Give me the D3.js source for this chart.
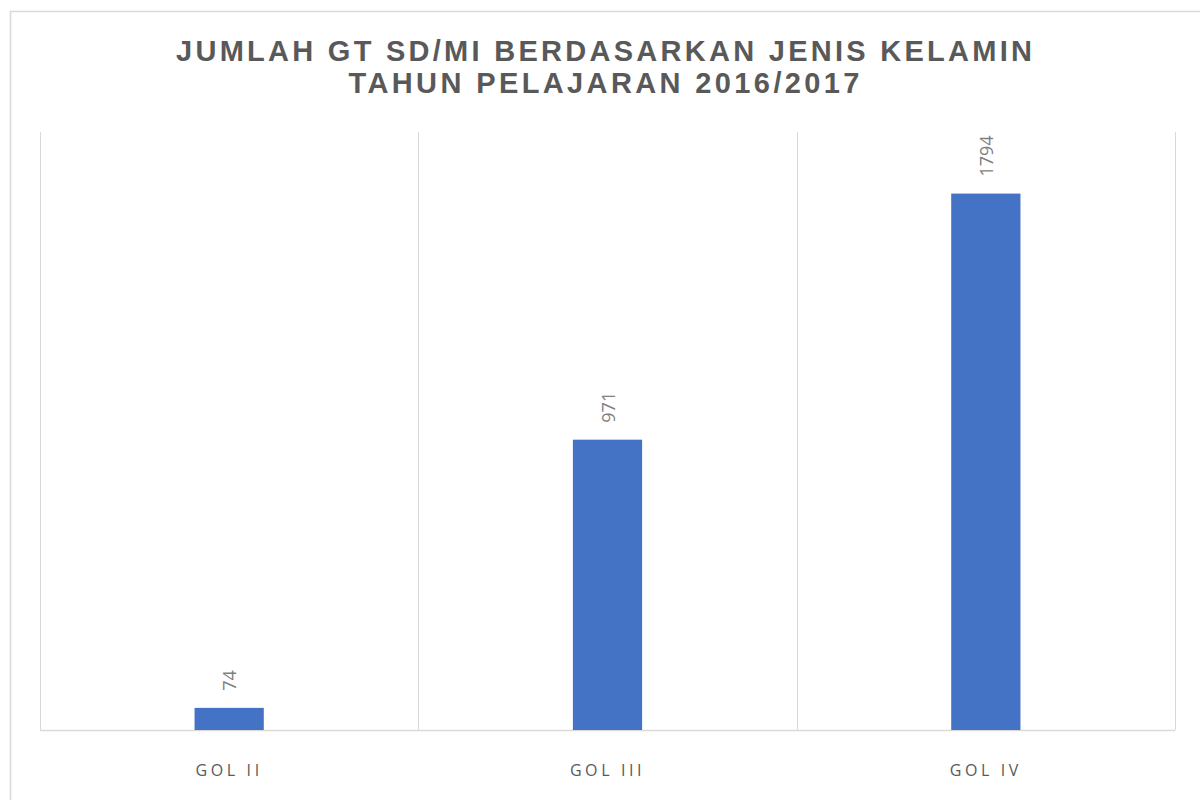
<!DOCTYPE html>
<html>
<head>
<meta charset="utf-8">
<script src="https://cdn.jsdelivr.net/npm/d3@7"></script>
<style>
  body { margin: 0; background: #fff; }
  svg { display: block; }
</style>
</head>
<body>
<svg width="1200" height="800"></svg>
<script>
// data
var categories = ["GOL II", "GOL III", "GOL IV"];
var values = [74, 971, 1794];
var titleLines = ["JUMLAH GT SD/MI BERDASARKAN JENIS KELAMIN", "TAHUN PELAJARAN 2016/2017"];

var svg = d3.select("svg"),
    margin = { top: 132, right: 25, bottom: 70, left: 40 },
    width = +svg.attr("width") - margin.left - margin.right,
    height = +svg.attr("height") - margin.top - margin.bottom;

// outer chart border (only top and left visible)
svg.append("path")
    .attr("d", "M10.5,800 V11.5 H1200")
    .attr("fill", "none")
    .attr("stroke", "#d9d9d9")
    .attr("stroke-width", 1.5);

var g = svg.append("g").attr("transform", "translate(" + margin.left + "," + margin.top + ")");

var x = d3.scaleBand()
    .domain(categories)
    .range([0, width]);

var y = d3.scaleLinear()
    .domain([0, 2000])
    .range([height, 0]);

var barW = x.bandwidth() * 0.183;

// vertical gridlines at category borders
var borders = categories.map(function (c) { return x(c); }).concat([width]);
g.selectAll("line.grid")
    .data(borders)
    .enter().append("line")
    .attr("class", "grid")
    .attr("x1", function (d) { return Math.round(d) + 0.5; })
    .attr("x2", function (d) { return Math.round(d) + 0.5; })
    .attr("y1", 0)
    .attr("y2", height)
    .attr("stroke", "#d9d9d9")
    .attr("stroke-width", 1);

// baseline
g.append("line")
    .attr("x1", 0).attr("x2", width)
    .attr("y1", height + 0.5).attr("y2", height + 0.5)
    .attr("stroke", "#d9d9d9")
    .attr("stroke-width", 1.5);

// bars
g.selectAll("rect.bar")
    .data(values)
    .enter().append("rect")
    .attr("class", "bar")
    .attr("x", function (d, i) { return x(categories[i]) + x.bandwidth() / 2 - barW / 2; })
    .attr("y", function (d) { return y(d); })
    .attr("width", barW)
    .attr("height", function (d) { return height - y(d); })
    .attr("fill", "#4472c4");

// value labels (rotated)
g.selectAll("text.val")
    .data(values)
    .enter().append("text")
    .attr("class", "val")
    .attr("transform", function (d, i) {
        var cx = x(categories[i]) + x.bandwidth() / 2;
        return "translate(" + (cx + 7) + "," + (y(d) - 17) + ") rotate(-90)";
    })
    .attr("font-family", "'Open Sans', sans-serif")
    .attr("font-size", 18)
    .attr("fill", "#7f7f7f")
    .text(function (d) { return d; });

// category labels
g.selectAll("text.cat")
    .data(categories)
    .enter().append("text")
    .attr("class", "cat")
    .attr("x", function (d) { return x(d) + x.bandwidth() / 2; })
    .attr("y", height + 46)
    .attr("text-anchor", "middle")
    .attr("font-family", "'Open Sans', sans-serif")
    .attr("font-size", 16)
    .attr("letter-spacing", "3.6px")
    .attr("fill", "#595959")
    .text(function (d) { return d; });

// title: condensed glyphs with wide tracking
var titleWidths = [860, 515];
svg.selectAll("text.title")
    .data(titleLines)
    .enter().append("text")
    .attr("class", "title")
    .attr("x", 606)
    .attr("y", function (d, i) { return 61 + i * 32; })
    .attr("text-anchor", "middle")
    .attr("font-family", "'Liberation Sans Narrow', 'Liberation Sans', Arial, sans-serif")
    .attr("font-weight", "bold")
    .attr("font-size", 29)
    .attr("letter-spacing", "4px")
    .attr("textLength", function (d, i) { return titleWidths[i]; })
    .attr("lengthAdjust", "spacing")
    .attr("fill", "#595959")
    .text(function (d) { return d; });
</script>
</body>
</html>
